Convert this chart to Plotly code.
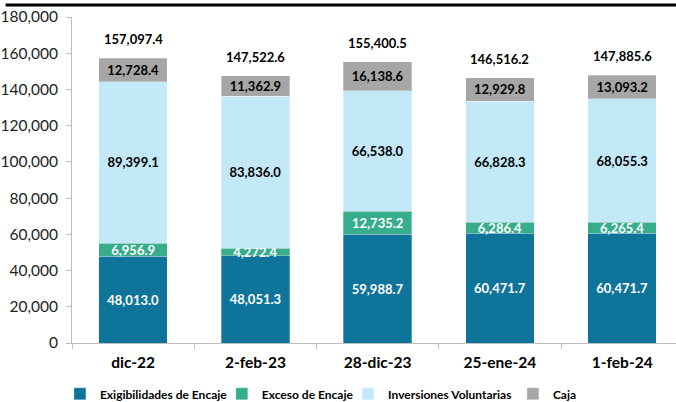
import plotly.graph_objects as go

categories = ['dic-22', '2-feb-23', '28-dic-23', '25-ene-24', '1-feb-24']
exigibilidades = [48013.0, 48051.3, 59988.7, 60471.7, 60471.7]
exceso = [6956.9, 4272.4, 12735.2, 6286.4, 6265.4]
inversiones = [89399.1, 83836.0, 66538.0, 66828.3, 68055.3]
caja = [12728.4, 11362.9, 16138.6, 12929.8, 13093.2]
totales = [157097.4, 147522.6, 155400.5, 146516.2, 147885.6]

FONT = 'Lato'

series = [
    ('Exigibilidades de Encaje', exigibilidades, '#0f7499', 'white', 'legend', -0.02),
    ('Exceso de Encaje', exceso, '#38ad8b', 'white', 'legend2', 0.248),
    ('Inversiones Voluntarias', inversiones, '#c3e9f8', 'black', 'legend3', 0.457),
    ('Caja', caja, '#a6a6a6', 'black', 'legend4', 0.730),
]

fig = go.Figure()
legends = {}
for name, vals, color, tcolor, leg, lx in series:
    fig.add_trace(go.Bar(
        x=categories, y=vals, name=name, width=0.56, legend=leg,
        marker=dict(color=color, line=dict(color='rgba(255,255,255,0.6)', width=0.5)),
        text=[f'{v:,.1f}' for v in vals], textposition='inside',
        insidetextanchor='middle',
        textfont=dict(family=FONT, size=13, color=tcolor, weight='bold'),
        hoverinfo='skip',
    ))
    # one legend per series so each entry sits where the original has it
    legends[leg] = dict(orientation='h', x=lx, xanchor='left', y=-0.156, yanchor='middle',
                        font=dict(family=FONT, size=12, color='black', weight='bold'),
                        itemwidth=30, bgcolor='rgba(0,0,0,0)')

# totals above each bar
annotations = []
for c, t in zip(categories, totales):
    annotations.append(dict(x=c, y=t, xref='x', yref='y', text=f'{t:,.1f}',
                            showarrow=False, yanchor='bottom', yshift=9,
                            font=dict(family=FONT, size=13, color='black', weight='bold')))

fig.update_layout(
    barmode='stack',
    width=676, height=402,
    font=dict(family=FONT, size=12, color='black'),
    margin=dict(l=72, r=0, t=17, b=59, autoexpand=False),
    plot_bgcolor='white', paper_bgcolor='white',
    uniformtext=dict(minsize=13, mode='show'),
    xaxis=dict(
        range=[-0.5, 4.44], automargin=False,
        showline=True, linecolor='#bfbfbf', linewidth=1,
        ticks='outside', tickson='boundaries', ticklen=5, tickcolor='#bfbfbf',
        tickfont=dict(family=FONT, size=15.5, color='black', weight='bold'),
        ticklabelstandoff=5,
        showgrid=False,
    ),
    yaxis=dict(
        range=[0, 180000], dtick=20000, tickformat=',', automargin=False,
        showline=True, linecolor='#bfbfbf', linewidth=1,
        ticks='outside', ticklen=5, tickcolor='#bfbfbf',
        tickfont=dict(family=FONT, size=15.5, color='#222'),
        ticklabelstandoff=5,
        showgrid=False, zeroline=False,
    ),
    annotations=annotations,
    showlegend=True,
    legend=legends['legend'],
    legend2=legends['legend2'],
    legend3=legends['legend3'],
    legend4=legends['legend4'],
)

# black rule across the top of the image
fig.add_shape(type='line', xref='paper', yref='paper', x0=-0.11, x1=1.0,
              y0=1.037, y1=1.037, line=dict(color='black', width=3))

# page has a default 8px body margin; remove it so the figure sits at 0,0
fig.write_html("out.html", config={'displayModeBar': False},
               post_script="document.body.style.margin='0';")
